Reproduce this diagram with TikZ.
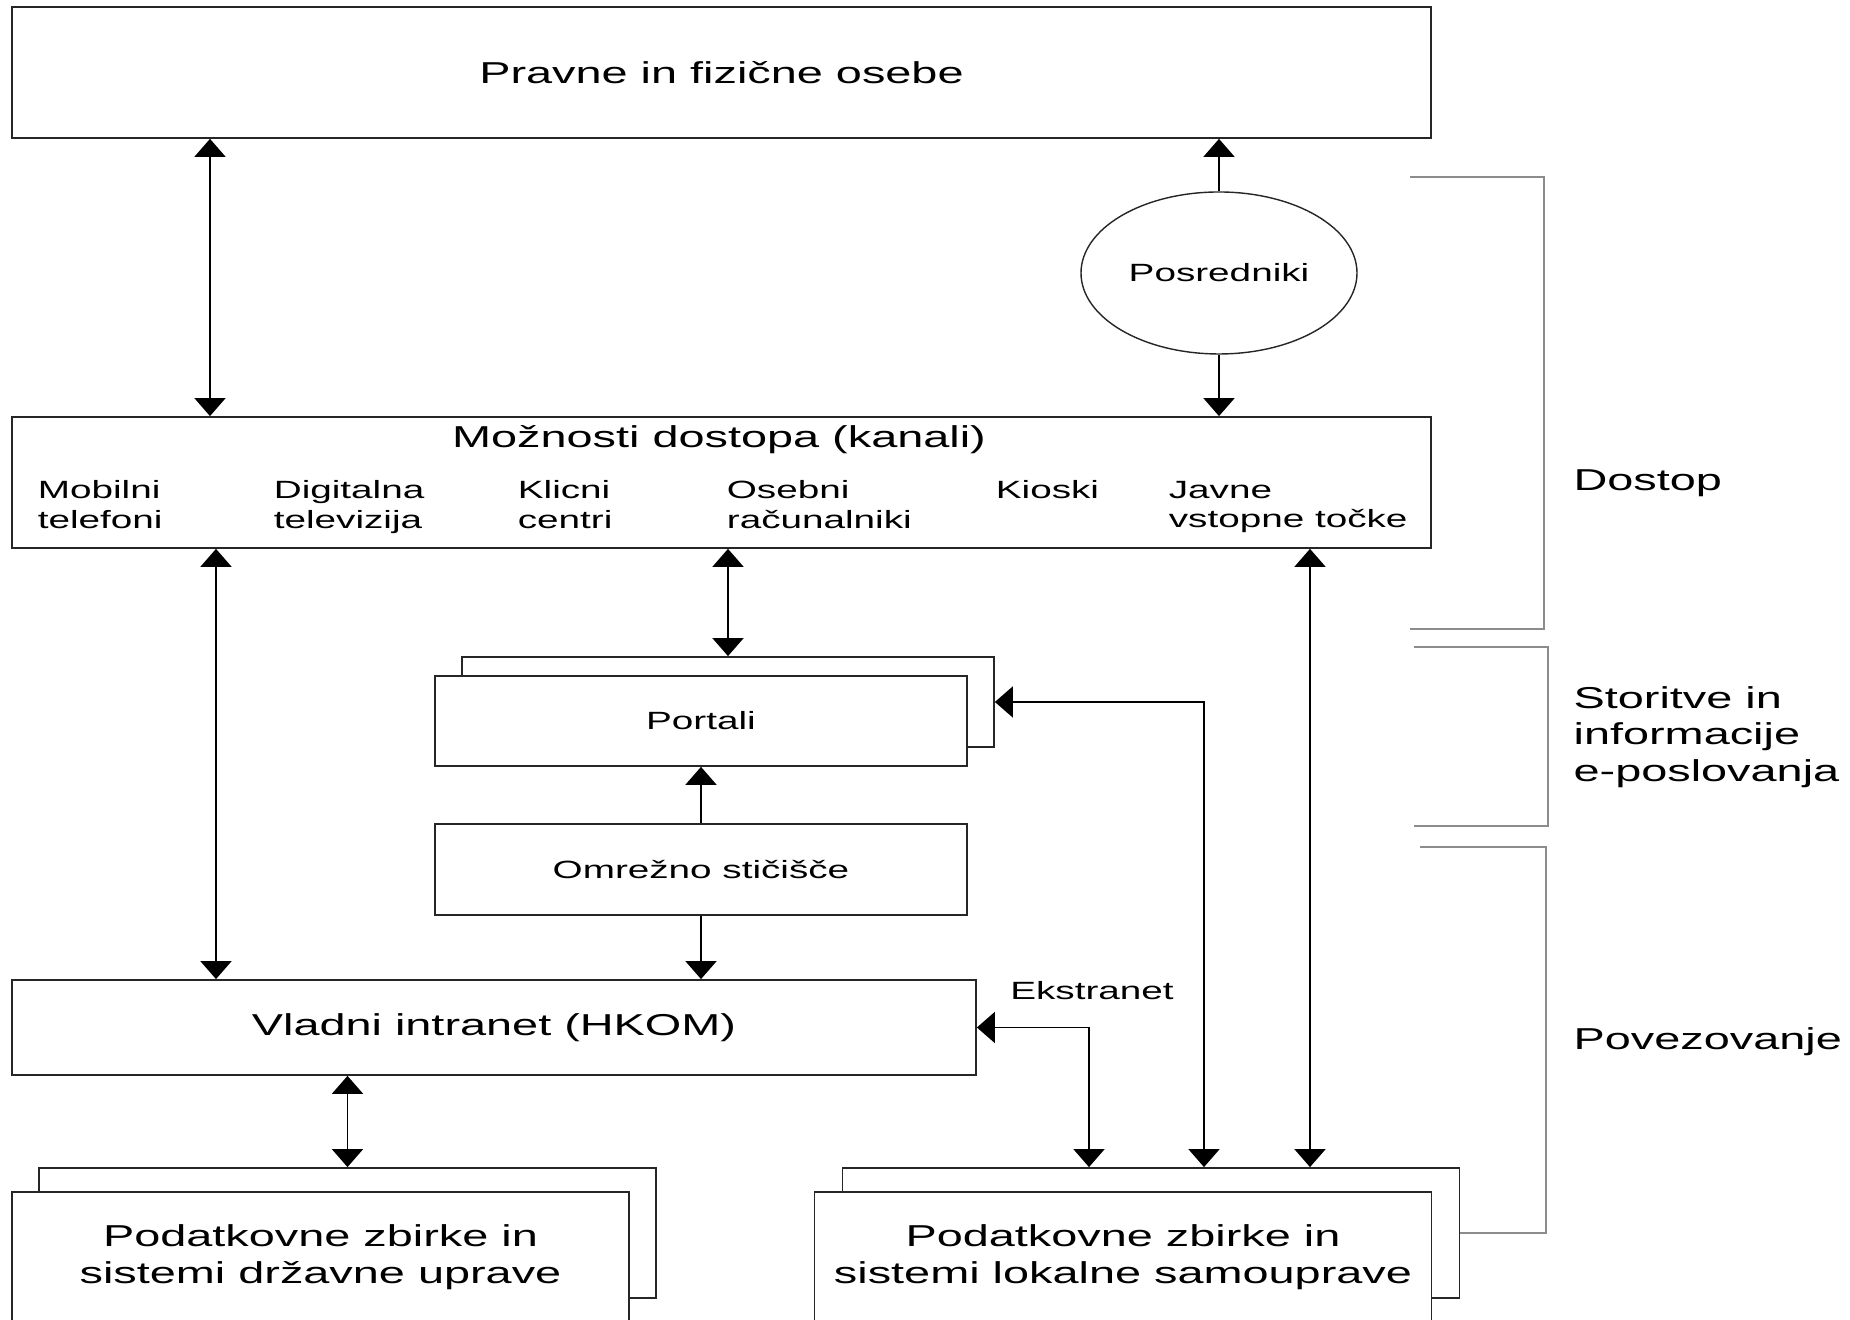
\documentclass[tikz,border=0pt]{standalone}
\usepackage{fontspec}
\setmainfont{Liberation Sans}[FakeStretch=1.55]
\usepackage{tikz}
\usetikzlibrary{positioning,shapes.geometric,arrows.meta}
\tikzset{box/.style={rectangle, draw=black!85, line width=0.5pt, inner sep=0pt, fill=white},
  bigtxt/.style={font=\fontsize{8.6}{10.4}\selectfont, align=center},
  smalltxt/.style={font=\fontsize{7.1}{8.3}\selectfont, align=center},
  tip/.style={-{Triangle[length=1.8mm,width=3.1mm]}},
  dtip/.style={{Triangle[length=1.8mm,width=3.1mm]}-{Triangle[length=1.8mm,width=3.1mm]}},
  brace/.style={draw=black!45, line width=0.35pt},}

\begin{document}
\begin{tikzpicture}[line width=0.5pt]
\useasboundingbox (0,0) rectangle (18.5,13.2);
\node [box, bigtxt, minimum width=14.19cm, minimum height=1.31cm] (osebe) at (7.215,12.475) {Pravne in fizične osebe};
\node [box, ellipse, smalltxt, line width=0.4pt, minimum width=2.76cm, minimum height=1.62cm] (posr) at (12.19,10.47) {Posredniki};
\node [box, minimum width=14.19cm, minimum height=1.31cm] (kanali) at (7.215,8.375) {};
\node [bigtxt] (kanaliT) at (7.19,8.80) {Možnosti dostopa (kanali)};
\node [smalltxt, align=left, anchor=north west, inner sep=0pt] (mob) at (0.37,8.40) {Mobilni\\telefoni};
\node [smalltxt, align=left, anchor=north west, inner sep=0pt] (dtv) at (2.73,8.40) {Digitalna\\televizija};
\node [smalltxt, align=left, anchor=north west, inner sep=0pt] (klic) at (5.17,8.40) {Klicni\\centri};
\node [smalltxt, align=left, anchor=north west, inner sep=0pt] (pc) at (7.26,8.40) {Osebni\\računalniki};
\node [smalltxt, align=left, anchor=north west, inner sep=0pt] (kios) at (9.95,8.40) {Kioski};
\node [smalltxt, align=left, anchor=north west, inner sep=0pt] (jav) at (11.68,8.40) {Javne\\vstopne točke};
\node [box, minimum width=5.32cm, minimum height=0.90cm] (portB) at (7.28,6.18) {};
\node [box, smalltxt, minimum width=5.32cm, minimum height=0.90cm] (port) at (7.01,5.99) {Portali};
\node [box, smalltxt, minimum width=5.32cm, minimum height=0.91cm] (omr) [below=0.56cm of port] {Omrežno stičišče};
\node [box, bigtxt, minimum width=9.64cm, minimum height=0.95cm] (vlada) at (4.94,2.925) {Vladni intranet (HKOM)};
\node [smalltxt] (ekst) at (10.92,3.29) {Ekstranet};
\node [box, minimum width=6.17cm, minimum height=1.30cm] (dbLb) at (3.475,0.87) {};
\node [box, bigtxt, minimum width=6.17cm, minimum height=1.30cm] (dbL) at (3.205,0.63) {Podatkovne zbirke in\\sistemi državne uprave};
\node [box, minimum width=6.17cm, minimum height=1.30cm] (dbRb) at (11.51,0.87) {};
\node [box, bigtxt, minimum width=6.17cm, minimum height=1.30cm] (dbR) at (11.23,0.63) {Podatkovne zbirke in\\sistemi lokalne samouprave};
% connectors
\draw[dtip] ([xshift=-5.115cm]osebe.south) -- ([xshift=-5.115cm]kanali.north);
\draw[tip] (posr.north) -- (posr.north |- osebe.south);
\draw[tip] (posr.south) -- (posr.south |- kanali.north);
\draw[dtip] ([xshift=-5.055cm]kanali.south) -- ([xshift=-5.055cm]kanali.south |- vlada.north);
\draw[dtip] (portB.north |- kanali.south) -- (portB.north);
\draw[dtip] ([xshift=5.885cm]kanali.south) -- ([xshift=5.885cm]kanali.south |- dbRb.north);
\draw[tip] (omr.north) -- (port.south);
\draw[tip] (omr.south) -- (omr.south |- vlada.north);
\draw[dtip] (dbLb.north |- vlada.south) -- (dbLb.north);
\draw[dtip] (vlada.east) -| ([xshift=-0.62cm]dbRb.north);
\draw[dtip] (portB.east) -| ([xshift=0.53cm]dbRb.north);
% levels on the right
\draw[brace] (14.10,11.43) -- (15.44,11.43) -- (15.44,6.91) -- (14.10,6.91);
\draw[brace] (14.14,6.73) -- (15.48,6.73) -- (15.48,4.94) -- (14.14,4.94);
\draw[brace] (dbRb.east) -| (15.46,4.73) -- (14.20,4.73);
\node [bigtxt, anchor=west] (dostop) at (15.61,8.37) {Dostop};
\node [bigtxt, align=left, anchor=west] (stor) at (15.61,5.83) {Storitve in\\informacije\\e-poslovanja};
\node [bigtxt, anchor=west] (povez) at (15.61,2.78) {Povezovanje};
\end{tikzpicture}
\end{document}
